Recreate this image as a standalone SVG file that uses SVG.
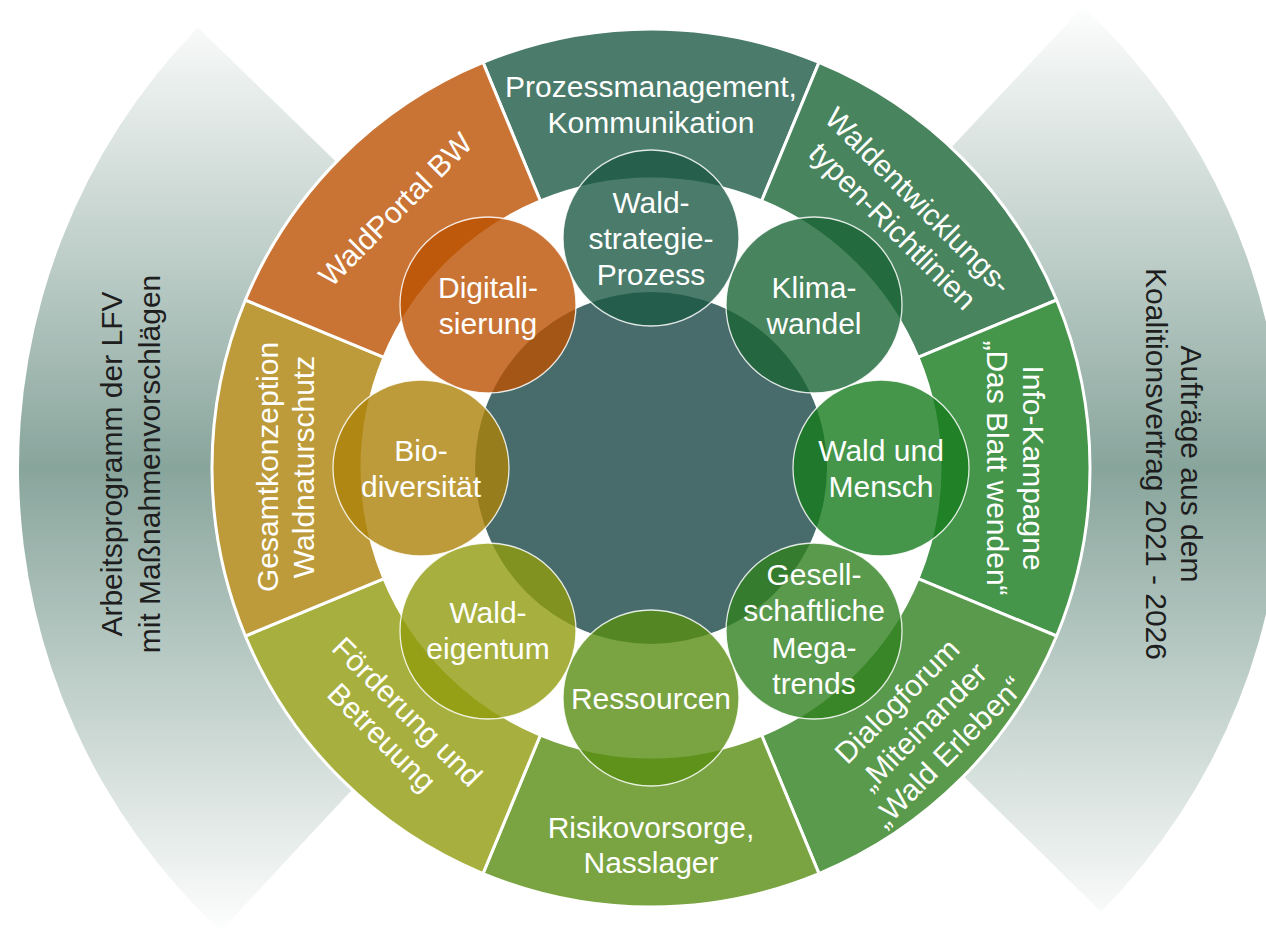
<svg xmlns="http://www.w3.org/2000/svg" width="1266" height="928" viewBox="0 0 1266 928">
<defs>
<linearGradient id="band" gradientUnits="userSpaceOnUse" x1="0" y1="0" x2="0" y2="936">
<stop offset="0" stop-color="#ffffff"/>
<stop offset="0.5" stop-color="#88a59c"/>
<stop offset="1" stop-color="#ffffff"/>
</linearGradient>
<style>
.t{font-family:"Liberation Sans",Arial,sans-serif;font-size:30px;fill:#ffffff;text-anchor:middle}
.side{font-family:"Liberation Sans",Arial,sans-serif;font-size:30px;fill:#1e1e1e;text-anchor:middle}
.seg{stroke:#ffffff;stroke-width:3;stroke-linejoin:round}
.c{stroke:#ffffff;stroke-width:1.3;stroke-opacity:0.85;fill-opacity:0.8}
</style>
</defs>
<rect width="1266" height="928" fill="#ffffff"/>

<g id="band-left">
<path d="M651,468 L197.9,27.4 A632,632 0 0 0 220.8,931 Z" fill="url(#band)"/>
<g transform="translate(141,464) rotate(-90)">
<text class="side" x="0" y="-19">Arbeitsprogramm der LFV</text>
<text class="side" x="0" y="19">mit Maßnahmenvorschlägen</text>
</g>
</g>
<g id="band-right">
<path d="M651,468 L1083.2,6.8 A632,632 0 0 1 1101,911.8 Z" fill="url(#band)"/>
<g transform="translate(1164,464) rotate(90)">
<text class="side" x="0" y="-17">Aufträge aus dem</text>
<text class="side" x="0" y="18">Koalitionsvertrag 2021 - 2026</text>
</g>
</g>

<g id="ring-base">
<circle cx="651" cy="468" r="440" fill="#ffffff"/>
</g>

<g id="seg-prozess">
<path class="seg" fill="#4a7b6b" d="M540.4,201 L483,62.4 A439,439 0 0 1 819,62.4 L761.6,201 A289,289 0 0 0 540.4,201 Z"/>
<text class="t" x="651" y="97">Prozessmanagement,</text>
<text class="t" x="651" y="133">Kommunikation</text>
</g>
<g id="seg-waldentwicklung">
<path class="seg" fill="#48845e" d="M761.6,201 L819,62.4 A439,439 0 0 1 1056.6,300 L918,357.4 A289,289 0 0 0 761.6,201 Z"/>
<g transform="translate(906,213) rotate(45)">
<text class="t" x="0" y="-7">Waldentwicklungs-</text>
<text class="t" x="0" y="29">typen-Richtlinien</text>
</g>
</g>
<g id="seg-info">
<path class="seg" fill="#45964b" d="M918,357.4 L1056.6,300 A439,439 0 0 1 1056.6,636 L918,578.6 A289,289 0 0 0 918,357.4 Z"/>
<g transform="translate(1016,468) rotate(90)">
<text class="t" x="0" y="-7">Info-Kampagne</text>
<text class="t" x="0" y="29">„Das Blatt wenden“</text>
</g>
</g>
<g id="seg-dialog">
<path class="seg" fill="#5a9a4c" d="M918,578.6 L1056.6,636 A439,439 0 0 1 819,873.6 L761.6,735 A289,289 0 0 0 918,578.6 Z"/>
<g transform="translate(922,726) rotate(-45)">
<text class="t" x="0" y="-25">Dialogforum</text>
<text class="t" x="0" y="11">„Miteinander</text>
<text class="t" x="0" y="47">„Wald Erleben“</text>
</g>
</g>
<g id="seg-risiko">
<path class="seg" fill="#79a441" d="M761.6,735 L819,873.6 A439,439 0 0 1 483,873.6 L540.4,735 A289,289 0 0 0 761.6,735 Z"/>
<text class="t" x="651" y="838">Risikovorsorge,</text>
<text class="t" x="651" y="873">Nasslager</text>
</g>
<g id="seg-foerderung">
<path class="seg" fill="#a7b03e" d="M540.4,735 L483,873.6 A439,439 0 0 1 245.4,636 L384,578.6 A289,289 0 0 0 540.4,735 Z"/>
<g transform="translate(395,724) rotate(45)">
<text class="t" x="0" y="-7">Förderung und</text>
<text class="t" x="0" y="29">Betreuung</text>
</g>
</g>
<g id="seg-gesamt">
<path class="seg" fill="#bd9b3a" d="M384,578.6 L245.4,636 A439,439 0 0 1 245.4,300 L384,357.4 A289,289 0 0 0 384,578.6 Z"/>
<g transform="translate(285,467) rotate(-90)">
<text class="t" x="0" y="-7">Gesamtkonzeption</text>
<text class="t" x="0" y="29">Waldnaturschutz</text>
</g>
</g>
<g id="seg-waldportal">
<path class="seg" fill="#c97434" d="M384,357.4 L245.4,300 A439,439 0 0 1 483,62.4 L540.4,201 A289,289 0 0 0 384,357.4 Z"/>
<g transform="translate(395,209) rotate(-45)">
<text class="t" x="0" y="11">WaldPortal BW</text>
</g>
</g>

<g id="center">
<circle cx="651" cy="468" r="176" fill="#486c6c"/>
</g>

<g id="c-waldstrategie">
<circle class="c" cx="651" cy="238" r="88" fill="#1d5a46"/>
<text class="t" x="651" y="213">Wald-</text>
<text class="t" x="651" y="249">strategie-</text>
<text class="t" x="651" y="285">Prozess</text>
</g>
<g id="c-klima">
<circle class="c" cx="814" cy="305" r="88" fill="#1a6536"/>
<text class="t" x="814" y="298">Klima-</text>
<text class="t" x="814" y="334">wandel</text>
</g>
<g id="c-mensch">
<circle class="c" cx="881" cy="468" r="88" fill="#177c1e"/>
<text class="t" x="881" y="461">Wald und</text>
<text class="t" x="881" y="497">Mensch</text>
</g>
<g id="c-megatrends">
<circle class="c" cx="814" cy="631" r="88" fill="#31811f"/>
<text class="t" x="814" y="585">Gesell-</text>
<text class="t" x="814" y="621">schaftliche</text>
<text class="t" x="814" y="658">Mega-</text>
<text class="t" x="814" y="694">trends</text>
</g>
<g id="c-ressourcen">
<circle class="c" cx="651" cy="698" r="88" fill="#588d12"/>
<text class="t" x="651" y="709">Ressourcen</text>
</g>
<g id="c-waldeigentum">
<circle class="c" cx="488" cy="631" r="88" fill="#919c0e"/>
<text class="t" x="488" y="623">Wald-</text>
<text class="t" x="488" y="659">eigentum</text>
</g>
<g id="c-biodiversitaet">
<circle class="c" cx="421" cy="468" r="88" fill="#ad8209"/>
<text class="t" x="421" y="461">Bio-</text>
<text class="t" x="421" y="497">diversität</text>
</g>
<g id="c-digitalisierung">
<circle class="c" cx="488" cy="305" r="88" fill="#bc5101"/>
<text class="t" x="488" y="298">Digitali-</text>
<text class="t" x="488" y="334">sierung</text>
</g>
<g id="connectors"></g>
</svg>
